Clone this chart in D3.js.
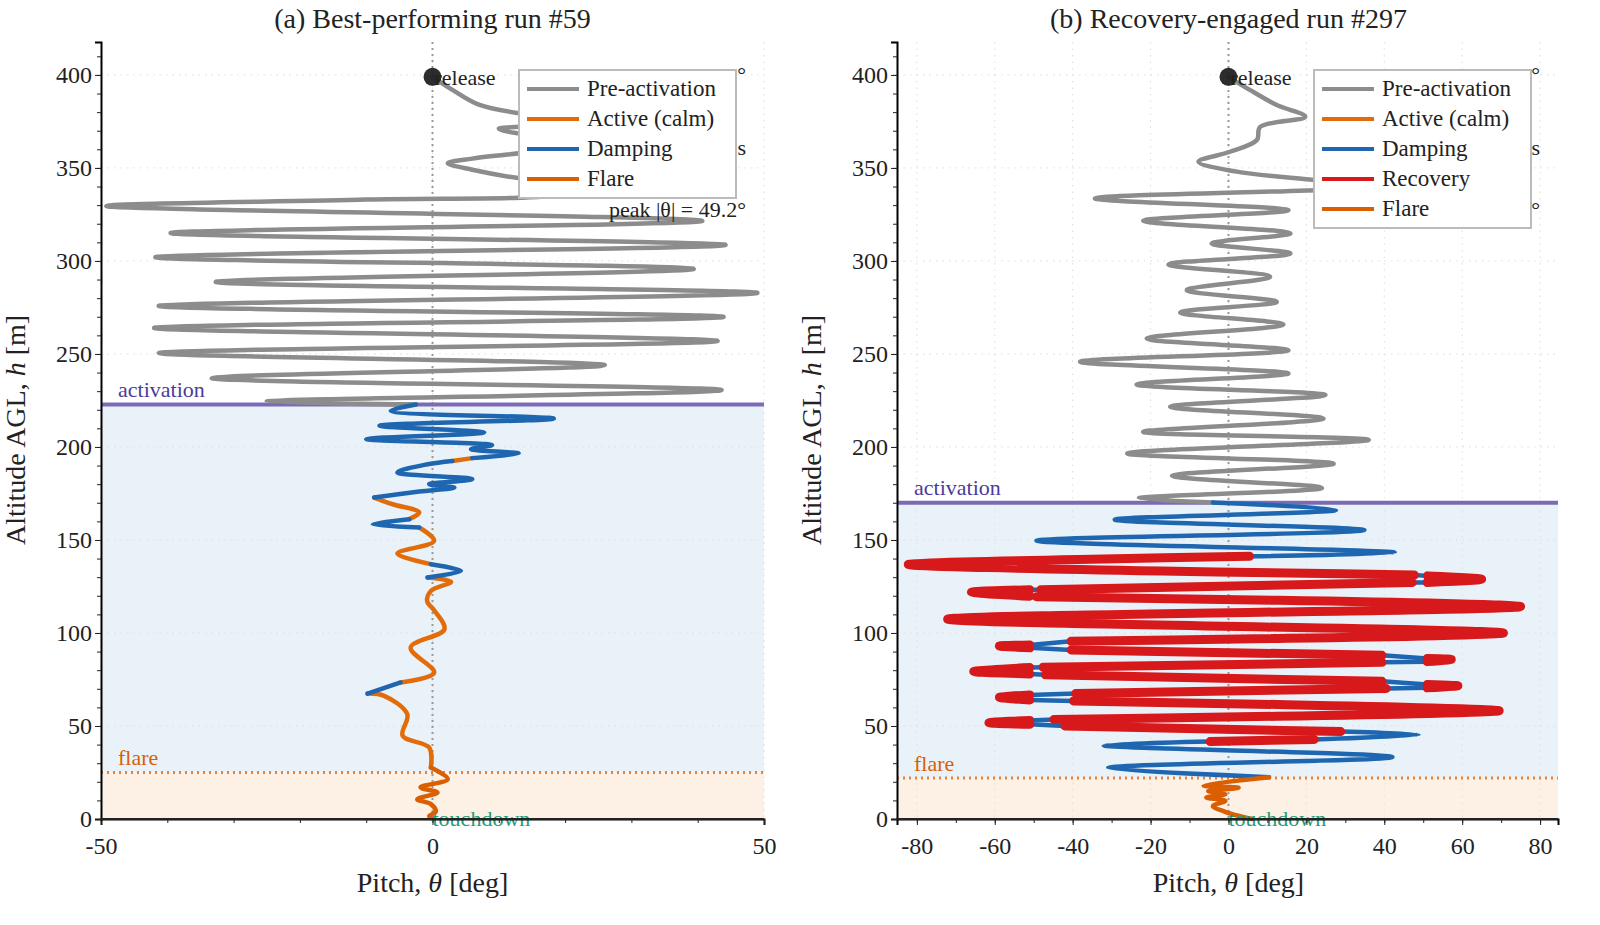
<!DOCTYPE html>
<html><head><meta charset="utf-8">
<script src="https://cdn.jsdelivr.net/npm/d3@7"></script>
<style>body{margin:0;background:#fff}svg{font-family:"Liberation Serif",serif}</style>
</head><body><div id="chart"></div>
<script>
// Trajectories: [pitch deg, altitude m, phase]  p=pre-activation c=calm d=damping r=recovery f=flare
const runA = [
  [0,399,'p'],[3,392,'p'],[7,384,'p'],[14,379,'p'],[25,376,'p'],[18,373,'p'],[10,371,'p'],[14,368,'p'],[25,365,'p'],
  [18,360,'p'],[6,355,'p'],[2.3,352.5,'p'],[6,349,'p'],[14,344,'p'],[24,341,'p'],[20,336,'p'],[-10,333,'p'],
  [-49.2,329.5,'p'],[40.7,321.5,'p'],[-39.5,315,'p'],[44.2,308.6,'p'],[-41.8,302,'p'],[39.4,295.7,'p'],
  [-32.7,288.7,'p'],[49,282.8,'p'],[-41.3,275.8,'p'],[43.9,269.9,'p'],[-42,264,'p'],[43,257,'p'],
  [-41.3,250.5,'p'],[26,244,'p'],[-33.3,237,'p'],[43.6,230.6,'p'],[-25,224.5,'p'],[-2.5,222.8,'p'],
  [-6.3,219.4,'d'],[18.3,215.3,'d'],[-8,211.4,'d'],[7.8,207.8,'d'],[-10,204.2,'d'],[9,201,'d'],[5.8,198.8,'d'],
  [13,196.5,'d'],[6,194,'d'],[3,192.5,'c'],[-0.75,190.7,'d'],[-5.3,186.3,'d'],[6,182.7,'d'],[-0.5,180,'d'],
  [3.3,178.2,'d'],[-2,176,'d'],[-8.8,172.8,'d'],[-6,169.2,'c'],[-2,164.8,'c'],[-3.5,161.2,'c'],[-9,158.5,'d'],
  [-2,156.7,'d'],[0.25,149.5,'c'],[-5.3,142.7,'c'],[-0.25,137,'c'],[4.3,133.4,'d'],[-0.75,129.8,'d'],
  [2.8,127.5,'c'],[-0.25,122.6,'c'],[-0.8,117,'c'],[0.3,112,'c'],[1.8,102,'c'],[-3.3,92.2,'c'],[0.25,78.7,'c'],
  [-4.8,73.4,'c'],[-9.8,67.4,'d'],[-7.3,66.2,'c'],[-3.8,56.3,'c'],[-4.5,44.7,'c'],[-0.5,38.4,'c'],
  [-0.25,27.7,'c'],[2.3,21.4,'f'],[-1.8,17,'f'],[0.75,14.2,'f'],[-2.3,10.6,'f'],[-0.25,8,'f'],[0.5,4,'f'],
  [-0.5,1.5,'f'],[0.2,0,'f']
];
const runB = [
  [0,399,'p'],[5.6,391.8,'p'],[12.4,383.8,'p'],[19.7,377.5,'p'],[8.1,372,'p'],[7.3,365,'p'],[0.4,358.7,'p'],
  [-7.7,353.3,'p'],[2.1,348,'p'],[22.7,343.4,'p'],[38,340,'p'],[-34.3,333.6,'p'],[15.4,327.3,'p'],
  [-21.9,321.6,'p'],[15.9,314.8,'p'],[-4.3,309.4,'p'],[15.9,304,'p'],[-15.4,298.1,'p'],[10.7,291.5,'p'],
  [-10.7,284.3,'p'],[12.4,278,'p'],[-12.4,272.3,'p'],[14.1,265.8,'p'],[-21,258.3,'p'],[15.4,252,'p'],
  [-38.1,245.8,'p'],[15.4,239.5,'p'],[-23.6,233.6,'p'],[24.9,227.9,'p'],[-15,221.6,'p'],[24.4,215.3,'p'],
  [-21.9,208.1,'p'],[36,203.8,'p'],[-26,196.5,'p'],[27,191,'p'],[-14.5,184.5,'p'],[24,178,'p'],
  [-23,172.5,'p'],[-4,170.2,'p'],
  [27.6,166.1,'d'],[-29.2,160.9,'d'],[34.9,155.3,'d'],[-49.3,149.6,'d'],[42.7,143.3,'d'],[5.4,141.2,'d'],
  [-82.2,136.8,'r'],[47.7,131.2,'r'],[51.1,130.7,'d'],[65,128.9,'r'],[51,127.2,'r'],[47.2,127.2,'d'],
  [-48.2,123.2,'r'],[-51,123.2,'d'],[-66,122,'r'],[-51,119.8,'r'],[-49.3,119.5,'d'],[75,114.2,'r'],
  [-72.1,107.4,'r'],[70.6,100,'r'],[-40.4,95.6,'r'],[-51,93.6,'d'],[-58.8,93,'r'],[-51,92,'r'],
  [-40.4,90.9,'d'],[39.4,88,'r'],[51,86.3,'d'],[57.2,85.8,'r'],[51,84.6,'r'],[39.4,84.2,'d'],
  [-47.6,81.6,'r'],[-51,81.4,'d'],[-65.4,79.3,'r'],[-51,78,'r'],[-47,77.5,'d'],[39.4,74,'r'],[51,72.3,'d'],
  [58.9,71.6,'r'],[51,70.5,'r'],[40.5,70.2,'d'],[-39.2,67.5,'r'],[-51,66.7,'d'],[-58.8,65.4,'r'],
  [-51,64,'r'],[-39.8,63.5,'d'],[69.5,58.2,'r'],[-44.8,53.5,'r'],[-51,53,'d'],[-61.5,51.8,'r'],
  [-51,50.9,'r'],[-42,50,'d'],[28.8,47,'r'],[48.8,45.3,'d'],[22,42.8,'d'],[-4.7,41.6,'r'],[-32,39.5,'d'],
  [42.1,33.3,'d'],[-30.9,27.5,'d'],[10.4,22.5,'d'],
  [-6.4,18,'f'],[2.6,16.8,'f'],[-5.2,15,'f'],[-0.8,13.3,'f'],[-5.7,11.5,'f'],[-0.8,9.8,'f'],[-4,7,'f'],
  [-1,4,'f'],[3,1.5,'f'],[6,0,'f']
];

const legendA = [['Pre-activation','p'],['Active (calm)','c'],['Damping','d'],['Flare','f']];
const legendB = [['Pre-activation','p'],['Active (calm)','c'],['Damping','d'],['Recovery','r'],['Flare','f']];
// annotation fragments visible beside the legends
const notesA = ['°', 's', 'peak |θ| = 49.2°'];
const notesB = ['°', 's', '°'];

const colors = {p:'#8c8c8c', c:'#e36c0a', d:'#1f66b1', r:'#d7191c', f:'#d95f02'};
const widths = {p:4.5, c:4.5, d:4.5, r:9, f:4.5};

const svg = d3.select('#chart').append('svg').attr('width',1600).attr('height',925);

function drawPanel(o) {
  const x = d3.scaleLinear().domain(o.xdom).range([o.left, o.right]);
  const y = d3.scaleLinear().domain([0, 417.7]).range([819, 42]);
  const g = svg.append('g');

  // shaded phases
  g.append('rect').attr('x',o.left).attr('width',o.right-o.left)
    .attr('y',y(o.act)).attr('height',y(o.flare)-y(o.act)).attr('fill','#eaf2f9');
  g.append('rect').attr('x',o.left).attr('width',o.right-o.left)
    .attr('y',y(o.flare)).attr('height',y(0)-y(o.flare)).attr('fill','#fdf1e6');

  // grid
  y.ticks(9).filter(v=>v<=400).forEach(v => g.append('line').attr('x1',o.left).attr('x2',o.right)
    .attr('y1',y(v)).attr('y2',y(v)).attr('stroke','#ddd').attr('stroke-dasharray','1.5,5'));
  o.xticks.forEach(v => g.append('line').attr('x1',x(v)).attr('x2',x(v))
    .attr('y1',42).attr('y2',819).attr('stroke','#ddd').attr('stroke-dasharray','1.5,5'));
  g.append('line').attr('x1',x(0)).attr('x2',x(0)).attr('y1',42).attr('y2',819)
    .attr('stroke','#999').attr('stroke-width',2).attr('stroke-dasharray','2,4');

  // activation / flare lines
  g.append('line').attr('x1',o.left).attr('x2',o.right).attr('y1',y(o.act)).attr('y2',y(o.act))
    .attr('stroke','#7b6bb5').attr('stroke-width',4);
  g.append('line').attr('x1',o.left).attr('x2',o.right).attr('y1',y(o.flare)).attr('y2',y(o.flare))
    .attr('stroke','#e8823a').attr('stroke-width',3).attr('stroke-dasharray','2,4');
  g.append('text').attr('x',o.left+17).attr('y',y(o.act)-8).attr('fill','#4b3b9c').attr('font-size',22).text('activation');
  g.append('text').attr('x',o.left+17).attr('y',y(o.flare)-7).attr('fill','#d95f02').attr('font-size',22).text('flare');

  // trajectory runs
  const line = d3.line().x(d=>x(d[0])).y(d=>y(d[1])).curve(d3.curveCatmullRom.alpha(0.5));
  const runs = [];
  o.data.forEach((d,i) => {
    if (i === 0) return;
    const last = runs[runs.length-1];
    if (last && last.ph === d[2]) last.pts.push(d);
    else runs.push({ph:d[2], pts:[o.data[i-1], d]});
  });
  ['p','c','d','f','r'].forEach(ph => runs.filter(r=>r.ph===ph).forEach(r =>
    g.append('path').attr('d',line(r.pts)).attr('fill','none').attr('stroke',colors[ph])
      .attr('stroke-width',widths[ph]).attr('stroke-linecap','round').attr('stroke-linejoin','round')));

  // release / touchdown
  g.append('text').attr('x',x(0)+2).attr('y',y(399)+8).attr('font-size',22).attr('fill','#222').text('release');
  g.append('circle').attr('cx',x(0)).attr('cy',y(399)).attr('r',9).attr('fill','#222').attr('opacity',0.95);
  g.append('text').attr('x',x(0)).attr('y',y(0)+7).attr('font-size',22).attr('fill','#1b9e77').text('touchdown');

  // notes beside legend
  [82, 155, 217].forEach((yy,i) => g.append('text').attr('x',o.right-18).attr('y',yy)
    .attr('text-anchor','end').attr('font-size',22).attr('fill','#222').text(o.notes[i]));

  // legend
  const lh = 30, lg = g.append('g').attr('transform',`translate(${o.legX},70)`);
  lg.append('rect').attr('width',217).attr('height',o.legend.length*lh+8).attr('fill','#fff')
    .attr('stroke','#bbb').attr('stroke-width',2);
  o.legend.forEach((l,i) => {
    lg.append('line').attr('x1',8).attr('x2',60).attr('y1',19+i*lh).attr('y2',19+i*lh)
      .attr('stroke',colors[l[1]]).attr('stroke-width',4);
    lg.append('text').attr('x',68).attr('y',26+i*lh).attr('font-size',23).attr('fill','#222').text(l[0]);
  });

  // axes
  const fmt = v => String(v);
  const ax = g.append('g').attr('transform','translate(0,819)')
    .call(d3.axisBottom(x).tickValues(o.xticks).tickSize(6).tickFormat(fmt));
  g.append('g').attr('transform','translate(0,819)')
    .call(d3.axisBottom(x).tickValues(d3.range(o.xticks[0]-10, o.xdom[1], 10).filter(v=>v>=o.xdom[0])).tickSize(4).tickFormat(''))
    .select('.domain').remove();
  const ay = g.append('g').attr('transform',`translate(${o.left},0)`)
    .call(d3.axisLeft(y).tickValues(d3.range(0,401,50)).tickSize(6).tickFormat(fmt));
  g.append('g').attr('transform',`translate(${o.left},0)`)
    .call(d3.axisLeft(y).tickValues(d3.range(0,411,10)).tickSize(4).tickFormat(''))
    .select('.domain').remove();
  [ax, ay].forEach(a => { a.selectAll('text').attr('font-size',24).attr('font-family','Liberation Serif').attr('fill','#222');
    a.select('.domain').attr('stroke-width',2); });
  ax.selectAll('text').attr('dy','1.1em');
  g.selectAll('.tick line').attr('stroke','#222');
  g.append('line').attr('x1',o.left).attr('x2',o.right).attr('y1',819).attr('y2',819).attr('stroke','#222').attr('stroke-width',2);

  // labels
  g.append('text').attr('x',x(0)).attr('y',28).attr('text-anchor','middle').attr('font-size',28).attr('fill','#222').text(o.title);
  g.append('text').attr('x',x(0)).attr('y',892).attr('text-anchor','middle').attr('font-size',28).attr('fill','#222')
    .html('Pitch, <tspan font-style="italic">θ</tspan> [deg]');
  g.append('text').attr('transform',`translate(${o.left-76},430) rotate(-90)`).attr('text-anchor','middle')
    .attr('font-size',28).attr('fill','#222').html('Altitude AGL, <tspan font-style="italic">h</tspan> [m]');
}

drawPanel({left:101, right:764, xdom:[-50,50], xticks:[-50,0,50], data:runA, act:222.8, flare:25,
  legend:legendA, legX:519, notes:notesA, title:'(a) Best-performing run #59'});
drawPanel({left:897, right:1558, xdom:[-85.1,84.6], xticks:d3.range(-80,81,20), data:runB, act:170, flare:22,
  legend:legendB, legX:1314, notes:notesB, title:'(b) Recovery-engaged run #297'});
</script></body></html>
